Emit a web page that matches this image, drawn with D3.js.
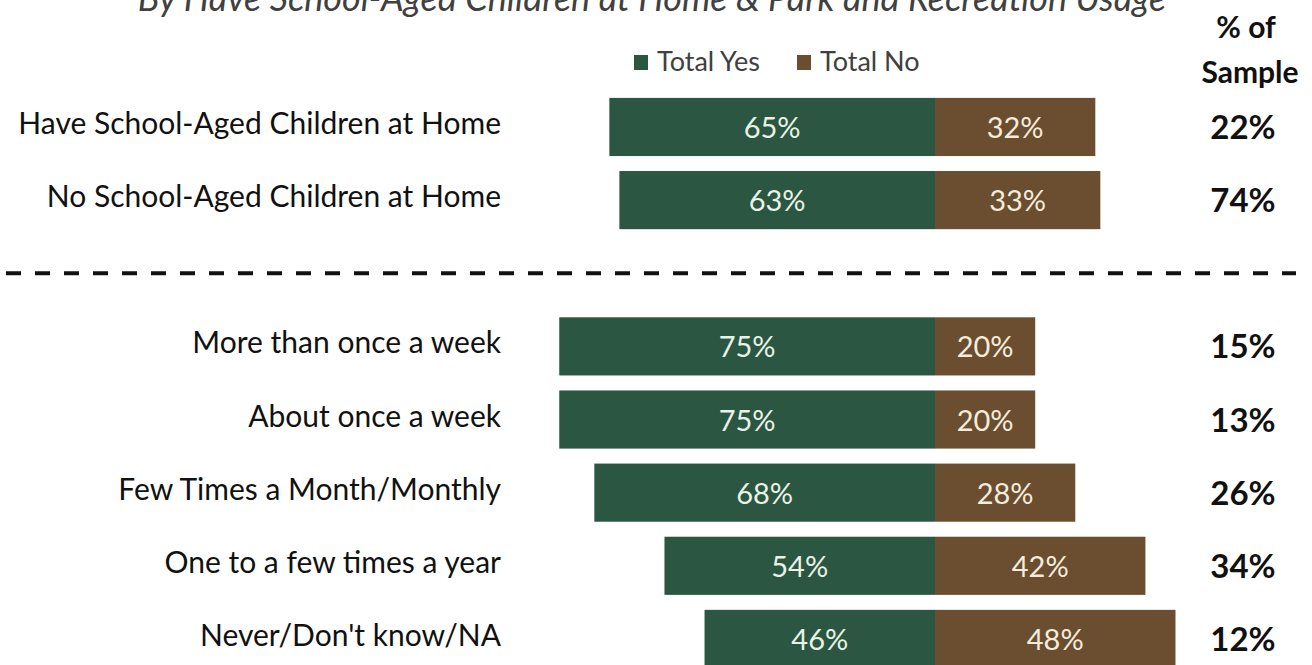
<!DOCTYPE html>
<html>
<head>
<meta charset="utf-8">
<script src="https://cdn.jsdelivr.net/npm/d3@7"></script>
<style>
  html, body { margin: 0; padding: 0; background: #fff; }
  svg { display: block; }
  text { font-family: Lato, "Open Sans", sans-serif; }
</style>
</head>
<body>
<svg id="chart" width="1312" height="665"></svg>
<script>
// Rows in display order; the empty string is the spacer slot holding the dashed divider
const categories = [
  "Have School-Aged Children at Home",
  "No School-Aged Children at Home",
  "",
  "More than once a week",
  "About once a week",
  "Few Times a Month/Monthly",
  "One to a few times a year",
  "Never/Don't know/NA"
];
const totalYes = [65, 63, null, 75, 75, 68, 54, 46];
const totalNo  = [32, 33, null, 20, 20, 28, 42, 48];
const sampleShare = [22, 74, null, 15, 13, 26, 34, 12];
const seriesNames = ["Total Yes", "Total No"];
const titleText = "By Have School-Aged Children at Home & Park and Recreation Usage";

const colors = { yes: "#2b5641", no: "#6a4e2f" };

const svg = d3.select("#chart");

// Diverging scale: Yes extends left of zero, No extends right
const x = d3.scaleLinear().domain([-100, 100]).range([434, 1436]);
const y = d3.scaleBand()
  .domain(d3.range(categories.length))
  .range([90.4, 675.5])
  .paddingInner(0.205)
  .paddingOuter(0.1025);

const rows = categories.map((c, i) => ({
  i, cat: c, yes: totalYes[i], no: totalNo[i], share: sampleShare[i]
})).filter(d => d.yes !== null);

// Title (runs off the top edge)
svg.append("text")
  .attr("x", 652).attr("y", 11)
  .attr("text-anchor", "middle")
  .attr("font-style", "italic")
  .attr("font-size", 36)
  .attr("fill", "#404040")
  .text(titleText);

// Legend
const legend = svg.append("g");
const legendItems = [
  { name: seriesNames[0], color: colors.yes, x: 634 },
  { name: seriesNames[1], color: colors.no, x: 797 }
];
legendItems.forEach(it => {
  legend.append("rect")
    .attr("x", it.x).attr("y", 55).attr("width", 14).attr("height", 15)
    .attr("fill", it.color);
  legend.append("text")
    .attr("x", it.x + 23).attr("y", 71)
    .attr("font-size", 27).attr("fill", "#404040")
    .text(it.name);
});

// Column header
const header = svg.append("text")
  .attr("text-anchor", "middle")
  .attr("font-size", 30).attr("font-weight", "bold").attr("fill", "#111");
header.append("tspan").attr("x", 1246).attr("y", 38).text("% of");
header.append("tspan").attr("x", 1250).attr("y", 83).text("Sample");

// Bars
const rowG = svg.append("g").selectAll("g.row").data(rows).join("g").attr("class", "row");

rowG.append("rect")
  .attr("x", d => x(-d.yes))
  .attr("y", d => y(d.i))
  .attr("width", d => x(0) - x(-d.yes))
  .attr("height", y.bandwidth())
  .attr("fill", colors.yes);

rowG.append("rect")
  .attr("x", x(0))
  .attr("y", d => y(d.i))
  .attr("width", d => x(d.no) - x(0))
  .attr("height", y.bandwidth())
  .attr("fill", colors.no);

const mid = d => y(d.i) + y.bandwidth() / 2;

rowG.append("text")
  .attr("x", d => (x(-d.yes) + x(0)) / 2)
  .attr("y", d => mid(d) + 11)
  .attr("text-anchor", "middle")
  .attr("font-size", 29).attr("fill", "#e8f2e6")
  .text(d => d.yes + "%");

rowG.append("text")
  .attr("x", d => (x(0) + x(d.no)) / 2)
  .attr("y", d => mid(d) + 11)
  .attr("text-anchor", "middle")
  .attr("font-size", 29).attr("fill", "#f5ecdc")
  .text(d => d.no + "%");

// Category labels
rowG.append("text")
  .attr("x", 501)
  .attr("y", d => mid(d) + 7)
  .attr("text-anchor", "end")
  .attr("font-size", 30).attr("fill", "#111")
  .text(d => d.cat);

// Share of sample column
rowG.append("text")
  .attr("x", 1243)
  .attr("y", d => mid(d) + 12)
  .attr("text-anchor", "middle")
  .attr("font-size", 33).attr("font-weight", "bold").attr("fill", "#111")
  .text(d => d.share + "%");

// Dashed divider in the spacer slot
const divY = y(2) + y.bandwidth() / 2;
svg.append("line")
  .attr("x1", 6).attr("x2", 1296)
  .attr("y1", divY).attr("y2", divY)
  .attr("stroke", "#111").attr("stroke-width", 4)
  .attr("stroke-dasharray", "15,14");
</script>
</body>
</html>
